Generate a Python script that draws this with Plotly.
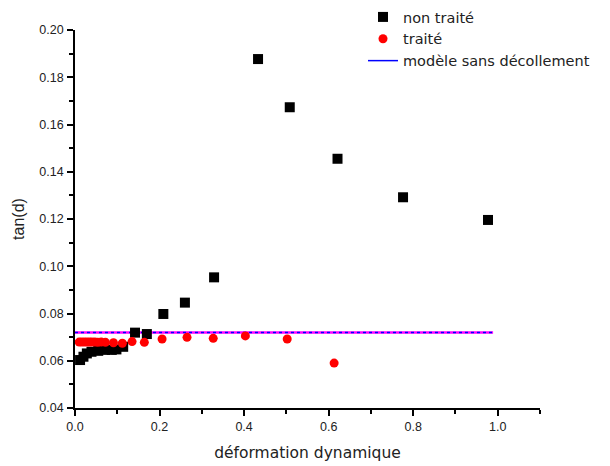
import plotly.graph_objects as go

# non traité (black squares)
x_non = [0.012, 0.020, 0.028, 0.039, 0.055, 0.071, 0.087, 0.098, 0.114, 0.142, 0.170,
         0.209, 0.260, 0.329, 0.433, 0.508, 0.621, 0.776, 0.977]
y_non = [0.0603, 0.0617, 0.0631, 0.0638, 0.0642, 0.0646, 0.0646, 0.0648, 0.0659, 0.0719, 0.0713,
         0.0798, 0.0846, 0.0953, 0.1877, 0.1673, 0.1455, 0.1292, 0.1196]

# traité (red circles)
x_tr = [0.010, 0.016, 0.022, 0.028, 0.034, 0.040, 0.047, 0.054, 0.062, 0.072, 0.091, 0.112,
        0.135, 0.164, 0.206, 0.265, 0.327, 0.403, 0.502, 0.613]
y_tr = [0.0679, 0.0679, 0.0679, 0.0679, 0.0679, 0.0679, 0.0679, 0.0678, 0.0679, 0.0678, 0.0676, 0.0674,
        0.0681, 0.0678, 0.0692, 0.0699, 0.0695, 0.0705, 0.0692, 0.0590]

# modèle sans décollement
x_mod = [0.0, 0.989]
y_mod = [0.072, 0.072]

FONT = "Liberation Sans, Arial"
WIDE = "DejaVu Sans, Verdana"

fig = go.Figure()
fig.add_trace(go.Scatter(x=x_mod, y=y_mod, mode="lines", line=dict(color="#ff00ff", width=2.5),
                         showlegend=False, hoverinfo="skip"))
fig.add_trace(go.Scatter(x=x_mod, y=y_mod, mode="lines", line=dict(color="#0000ff", width=1.5, dash="dot"),
                         showlegend=False, hoverinfo="skip"))
fig.add_trace(go.Scatter(x=x_non, y=y_non, mode="markers", name="non traité",
                         marker=dict(symbol="square", color="black", size=10)))
fig.add_trace(go.Scatter(x=x_tr, y=y_tr, mode="markers", name="traité",
                         marker=dict(symbol="circle", color="#ff0000", size=9)))
fig.add_trace(go.Scatter(x=[None], y=[None], mode="lines", name="modèle sans décollement",
                         line=dict(color="#0000ff", width=1.5)))

axis_common = dict(
    showline=True, linecolor="black", linewidth=1.6, mirror=False, automargin=False,
    showgrid=False, zeroline=False, ticks="outside", ticklen=6, tickwidth=1.5, tickcolor="black",
    tickfont=dict(family=FONT, size=12.5, color="#222"),
)
fig.update_xaxes(range=[0, 1.1], dtick=0.2, tick0=0, tickformat=".1f", ticklabelstandoff=0,
                 minor=dict(ticks="outside", dtick=0.1, ticklen=4, tickwidth=1.5, tickcolor="black"),
                 title=dict(text="déformation dynamique", font=dict(family=WIDE, size=15.5, color="#222"),
                            standoff=14),
                 **axis_common)
fig.update_yaxes(range=[0.04, 0.20], dtick=0.02, tick0=0.04, tickformat=".2f", ticklabelstandoff=1,
                 minor=dict(ticks="outside", dtick=0.01, ticklen=4, tickwidth=1.5, tickcolor="black"),
                 title=dict(text="tan(d)", font=dict(family=FONT, size=16, color="#222"),
                            standoff=11),
                 **axis_common)

# the page adds an 8px body margin, so the figure box is offset by (8, 8)
fig.update_layout(
    width=610, height=466,
    margin=dict(l=67, r=78, t=22, b=66, autoexpand=False),
    plot_bgcolor="white", paper_bgcolor="white",
    font=dict(family=FONT, size=12, color="#222"),
    legend=dict(x=(355 - 67) / 465, y=1 + 29 / 378,
                xanchor="left", yanchor="top", bgcolor="rgba(0,0,0,0)",
                font=dict(family=WIDE, size=14.5, color="#222"),
                tracegroupgap=0, itemwidth=30),
)

fig.write_html("out.html")
